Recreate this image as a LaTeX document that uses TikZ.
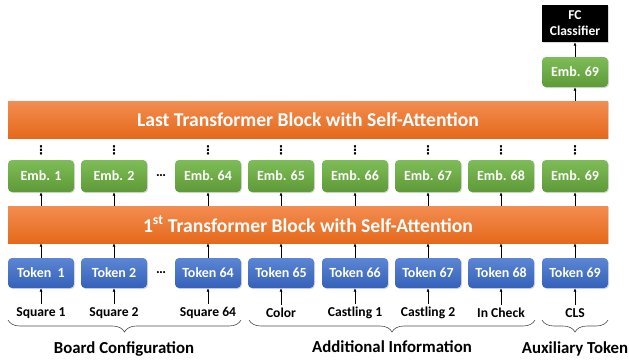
\documentclass[tikz,border=0pt]{standalone}
\usepackage{fontspec}
\setmainfont{Carlito}
\newfontfamily\dotfont{DejaVu Sans}
\usetikzlibrary{positioning}
\usetikzlibrary{calc}
\usetikzlibrary{arrows.meta}
\usetikzlibrary{shadows}
\usetikzlibrary{decorations.pathreplacing}

\definecolor{embTop}{HTML}{7DBC56}
\definecolor{embBot}{HTML}{5E9B38}
\definecolor{tokTop}{HTML}{5C86D3}
\definecolor{tokBot}{HTML}{3461BA}
\definecolor{barTop}{HTML}{F38D51}
\definecolor{barBot}{HTML}{E5691B}

\begin{document}
\begin{tikzpicture}[
	x=1pt, y=-1pt,
	box/.style={
		rounded corners=4pt,
		minimum width=66pt,
		inner sep=0pt,
		text=white,
		font=\bfseries\fontsize{14}{15}\selectfont,
		drop shadow={shadow xshift=1pt, shadow yshift=-1pt, opacity=0.3}
	},
	embbox/.style={box, minimum height=32pt, top color=embTop, bottom color=embBot},
	tokbox/.style={box, minimum height=30pt, top color=tokTop, bottom color=tokBot},
	blockbar/.style={
		minimum width=600pt,
		minimum height=37pt,
		top color=barTop,
		bottom color=barBot,
		text=white,
		font=\bfseries\fontsize{19.6}{21}\selectfont,
		drop shadow={shadow xshift=1pt, shadow yshift=-1pt, opacity=0.3}
	},
	flow/.style={-{Latex[length=3.5pt, width=3pt]}, line width=0.6pt},
	inlabel/.style={font=\bfseries\fontsize{13.6}{14}\selectfont},
	grouplabel/.style={font=\bfseries\fontsize{16.8}{18}\selectfont},
	groupbrace/.style={decorate, decoration={brace, mirror, amplitude=12pt}, draw=black!70, line width=0.6pt},
	vdotsmark/.style={inner sep=0pt, font=\dotfont\bfseries\fontsize{12}{12}\selectfont},
	hdotsmark/.style={inner sep=0pt, font=\bfseries\fontsize{14}{14}\selectfont}
]
\useasboundingbox (0,0) rectangle (629,362);

\node[blockbar] (lastBlock) at (308,119.5) {Last Transformer Block with Self-Attention};
\node[blockbar] (firstBlock) at (308,224.5) {1\textsuperscript{st} Transformer Block with Self-Attention};

% ---

\foreach \n/\x/\lab/\tok in {1/41/Square 1/Token\ \ 1, 2/114/Square 2/Token 2, 64/208/Square 64/Token 64,
		65/281/Color/Token 65, 66/355/Castling 1/Token 66, 67/428/Castling 2/Token 67,
		68/501/In Check/Token 68, 69/575/CLS/Token 69} {
	\node[tokbox] (tok\n) at (\x,273) {\tok};
	\node[embbox] (emb\n) at (\x,176) {Emb. \n};
	\node[inlabel] (in\n) at (\x,313) {\lab};
	\node[vdotsmark] (vd\n) at (\x,150) {⋮};
	\draw[flow] (in\n.north) -- (tok\n.south);
	\draw[flow] (tok\n.north) -- (tok\n.north |- firstBlock.south);
	\draw[flow] (emb\n.south |- firstBlock.north) -- (emb\n.south);
}

\node[hdotsmark] (hdEmb) at (161,176) {…};
\node[hdotsmark] (hdTok) at (161,273) {…};

% ---

\node[embbox, minimum height=30pt] (embOut) at (575,72) {Emb. 69};
\node[
	box,
	rounded corners=0pt,
	fill=black,
	minimum height=37pt,
	align=center,
	font=\bfseries\fontsize{13.5}{16}\selectfont
] (fc) at (575,23.5) {FC\\Classifier};

\draw[flow] (embOut.south |- lastBlock.north) -- (embOut.south);
\draw[flow] (embOut.north) -- (fc.south);

% ---

\draw[groupbrace] (8,320) -- (241,320);
\draw[groupbrace] (249,320) -- (535,320);
\draw[groupbrace] (542,320) -- (608,320);

\node[grouplabel] (board) at (124,349) {Board Configuration};
\node[grouplabel] (extra) at (392,347) {Additional Information};
\node[grouplabel] (aux) at (575,349) {Auxiliary Token};

\end{tikzpicture}
\end{document}
